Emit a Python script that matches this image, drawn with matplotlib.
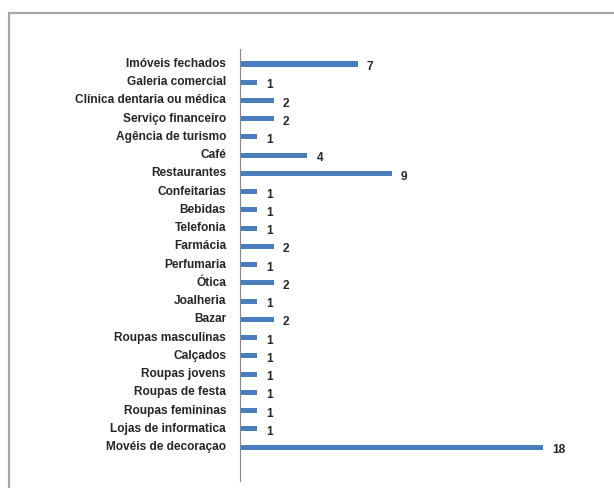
import matplotlib
matplotlib.use('Agg')
import matplotlib.pyplot as plt
import matplotlib.transforms as mtransforms
from matplotlib.patches import Rectangle

# categories from top to bottom
categorias = ['Imóveis fechados', 'Galeria comercial', 'Clínica dentaria ou médica',
              'Serviço financeiro', 'Agência de turismo', 'Café', 'Restaurantes',
              'Confeitarias', 'Bebidas', 'Telefonia', 'Farmácia', 'Perfumaria',
              'Ótica', 'Joalheria', 'Bazar', 'Roupas masculinas', 'Calçados',
              'Roupas jovens', 'Roupas de festa', 'Roupas femininas',
              'Lojas de informatica', 'Movéis de decoraçao']
valores = [7, 1, 2, 2, 1, 4, 9, 1, 1, 1, 2, 1, 2, 1, 2, 1, 1, 1, 1, 1, 1, 18]

plt.rcParams['font.family'] = ['Liberation Sans', 'DejaVu Sans']

fig = plt.figure(figsize=(6.14, 4.89), dpi=100)
# outer frame of the pasted chart
fig.patches.append(Rectangle((9 / 614, -0.1), 1.2, 0.1 + 1 - 14 / 489,
                             transform=fig.transFigure, fill=False,
                             edgecolor='#a6a6a6', linewidth=1.6))

ax = fig.add_axes([240 / 614, 1 - 482 / 489, 337 / 614, (482 - 50) / 489])
pos = list(range(len(categorias)))
bars = ax.barh(pos, valores, height=0.28, color='#4a7ebb')
ax.set_ylim(22.86, -0.82)
ax.set_xlim(0, 20)
ax.set_yticks(pos)
ax.set_yticklabels(categorias, fontsize=8.6, fontweight='bold', color='#262626')
ax.tick_params(axis='y', length=0, pad=10)
# category names sit a little above the bars
shift = mtransforms.ScaledTranslation(0, 1.8 / 72, fig.dpi_scale_trans)
for lab in ax.get_yticklabels():
    lab.set_transform(lab.get_transform() + shift)
ax.set_xticks([])
for s in ['top', 'right', 'bottom']:
    ax.spines[s].set_visible(False)
ax.spines['left'].set_color('#888888')
ax.spines['left'].set_linewidth(0.8)

for p, v in zip(pos, valores):
    ax.annotate(str(v), (v, p), xytext=(6.5, -1.5), textcoords='offset points',
                va='center', ha='left', fontsize=8.6, fontweight='bold', color='#262626')

fig.savefig('out.png', dpi=100)
